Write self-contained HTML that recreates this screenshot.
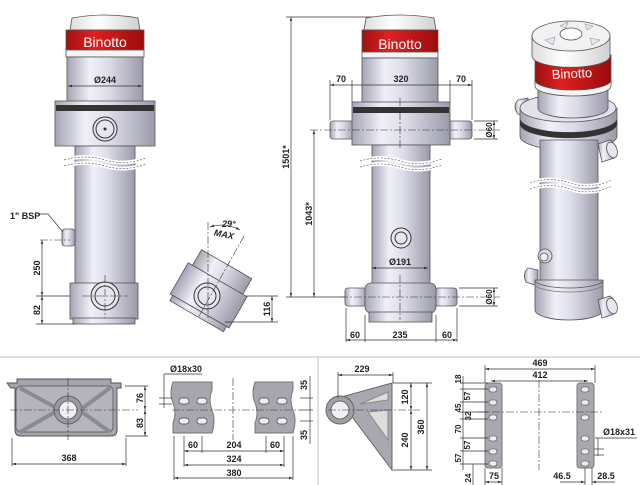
<!DOCTYPE html>
<html><head><meta charset="utf-8"><style>
html,body{margin:0;padding:0;background:#fff}
svg{display:block}
text{font-family:"Liberation Sans",Arial,sans-serif;font-weight:bold;fill:#222}
.d{stroke:#333;stroke-width:0.7;fill:none}
.c{stroke:#333;stroke-width:0.6;fill:none;stroke-dasharray:8 2 2 2}
.o{stroke:#555;stroke-width:0.8}
</style></head><body>
<svg width="640" height="485" viewBox="0 0 640 485" xmlns="http://www.w3.org/2000/svg">
<defs>
<linearGradient id="m" x1="0" x2="1" y1="0" y2="0">
<stop offset="0" stop-color="#a4a4b4"/><stop offset="0.3" stop-color="#f0f0f8"/><stop offset="0.55" stop-color="#dcdce8"/><stop offset="1" stop-color="#9a9aaa"/></linearGradient>
<linearGradient id="r" x1="0" x2="1" y1="0" y2="0">
<stop offset="0" stop-color="#a01010"/><stop offset="0.35" stop-color="#e02020"/><stop offset="1" stop-color="#9a0c0c"/></linearGradient>
<linearGradient id="w" x1="0" x2="1"><stop offset="0" stop-color="#ddd"/><stop offset="0.4" stop-color="#fff"/><stop offset="1" stop-color="#d0d0d0"/></linearGradient>
<marker id="a" viewBox="0 0 10 10" refX="10" refY="5" markerWidth="6" markerHeight="6" orient="auto-start-reverse"><path d="M0,2L10,5L0,8z" fill="#333"/></marker>
</defs>

<!-- LEFT CYLINDER -->
<g class="o">
<path d="M70,30 L72,18 Q105,12 138,18 L140,30Z" fill="url(#w)"/>
<rect x="66" y="30" width="78" height="20" fill="url(#r)"/>
<rect x="66" y="50" width="78" height="7" fill="#f4f4f4"/>
<rect x="67" y="57" width="76" height="45" fill="url(#m)"/>
<rect x="55" y="101" width="100" height="45" fill="url(#m)"/>
<rect x="56" y="105" width="98" height="6" fill="#333" stroke="none"/>
<rect x="75" y="146" width="60" height="138" fill="url(#m)"/>
<rect x="62" y="229" width="13" height="17" rx="3" fill="url(#m)"/>
<rect x="70" y="283" width="68" height="36" fill="url(#m)"/>
<rect x="73" y="318" width="62" height="6" fill="url(#m)"/>
</g>
<text x="105" y="47" font-size="14" style="fill:#fff;font-weight:normal" text-anchor="middle">Binotto</text>
<circle cx="105" cy="129" r="12" fill="#e6e6ee" stroke="#333"/><circle cx="105" cy="129" r="9" fill="none" stroke="#333"/><circle cx="105" cy="129" r="1.5" fill="#333"/>
<circle cx="105" cy="296" r="14" fill="#e6e6ee" stroke="#333"/><circle cx="105" cy="296" r="10" fill="none" stroke="#333"/>
<path d="M64,160 Q85,154 105,160 T146,158 M64,166 Q85,160 105,166 T146,164" stroke="#fff" stroke-width="4" fill="none"/>
<path d="M64,160 Q85,154 105,160 T146,158 M64,166 Q85,160 105,166 T146,164" stroke="#555" stroke-width="0.6" stroke-dasharray="2 1.5" fill="none"/>
<line class="d" x1="68" y1="86" x2="142" y2="86" marker-start="url(#a)" marker-end="url(#a)"/>
<text x="105" y="83" font-size="9" text-anchor="middle">Ø244</text>
<text x="10" y="219" font-size="9">1" BSP</text>
<path class="d" d="M38,214 L48,214 L63,232"/>
<line class="c" x1="40" y1="240" x2="70" y2="240"/>
<line class="c" x1="82" y1="296" x2="128" y2="296"/><line class="c" x1="105" y1="275" x2="105" y2="318"/>
<line class="d" x1="36" y1="296" x2="70" y2="296"/><line class="d" x1="36" y1="324" x2="75" y2="324"/>
<line class="d" x1="42" y1="240" x2="42" y2="296" marker-start="url(#a)" marker-end="url(#a)"/>
<line class="d" x1="42" y1="296" x2="42" y2="324" marker-start="url(#a)" marker-end="url(#a)"/>
<text transform="translate(40,268) rotate(-90)" font-size="9" text-anchor="middle">250</text>
<text transform="translate(40,310) rotate(-90)" font-size="9" text-anchor="middle">82</text>

<!-- TILTED -->
<g transform="rotate(30 210 295)" class="o">
<rect x="180" y="260" width="58" height="18" fill="url(#m)"/>
<rect x="175" y="278" width="68" height="36" fill="url(#m)"/>
<rect x="178" y="314" width="62" height="6" fill="url(#m)"/>
</g>
<circle cx="207" cy="296" r="13" fill="#e6e6ee" stroke="#333"/><circle cx="207" cy="296" r="9" fill="none" stroke="#333"/>
<line class="c" x1="208" y1="222" x2="208" y2="320"/>
<line class="c" x1="244" y1="236" x2="198" y2="318"/>
<path class="d" d="M210,227 Q225,222 240,230" marker-start="url(#a)" marker-end="url(#a)"/>
<text x="222" y="227" font-size="9" font-style="italic">29°</text>
<text x="214" y="237" font-size="9" font-style="italic" transform="rotate(12 222 234)">MAX</text>
<line class="d" x1="246" y1="296" x2="278" y2="296"/><line class="d" x1="225" y1="322" x2="278" y2="322"/>
<line class="d" x1="272" y1="296" x2="272" y2="322" marker-start="url(#a)" marker-end="url(#a)"/>
<text transform="translate(270,309) rotate(-90)" font-size="9" text-anchor="middle">116</text>

<!-- MIDDLE CYLINDER -->
<line class="d" x1="286" y1="17" x2="380" y2="17"/>
<line class="d" x1="286" y1="297" x2="345" y2="297"/>
<line class="d" x1="291" y1="17" x2="291" y2="297" marker-start="url(#a)" marker-end="url(#a)"/>
<line class="d" x1="314" y1="130" x2="314" y2="297" marker-start="url(#a)" marker-end="url(#a)"/>
<text transform="translate(289,157) rotate(-90)" font-size="9" text-anchor="middle">1501*</text>
<text transform="translate(312,214) rotate(-90)" font-size="9" text-anchor="middle">1043*</text>
<g class="o">
<path d="M364,30 L366,18 Q400,12 434,18 L436,30Z" fill="url(#w)"/>
<rect x="362" y="30" width="76" height="22" fill="url(#r)"/>
<rect x="362" y="52" width="76" height="6" fill="#f4f4f4"/>
<rect x="362" y="58" width="76" height="45" fill="url(#m)"/>
<rect x="330" y="121" width="24" height="18" rx="3" fill="url(#m)"/>
<rect x="448" y="121" width="24" height="18" rx="3" fill="url(#m)"/>
<rect x="352" y="102" width="98" height="43" fill="url(#m)"/>
<rect x="353" y="107" width="96" height="6" fill="#333" stroke="none"/>
<rect x="372" y="145" width="58" height="140" fill="url(#m)"/>
<rect x="345" y="288" width="22" height="18" rx="3" fill="url(#m)"/>
<rect x="435" y="288" width="22" height="18" rx="3" fill="url(#m)"/>
<rect x="365" y="283" width="71" height="30" rx="6" fill="url(#m)"/>
<rect x="369" y="312" width="63" height="10" fill="url(#m)"/>
</g>
<text x="400" y="49" font-size="14" style="fill:#fff;font-weight:normal" text-anchor="middle">Binotto</text>
<circle cx="401" cy="238" r="10" fill="#e6e6ee" stroke="#333"/><circle cx="401" cy="238" r="6" fill="none" stroke="#333"/>
<path d="M360,161 Q380,155 400,161 T442,159 M360,167 Q380,161 400,167 T442,165" stroke="#fff" stroke-width="4" fill="none"/>
<path d="M360,161 Q380,155 400,161 T442,159 M360,167 Q380,161 400,167 T442,165" stroke="#555" stroke-width="0.6" stroke-dasharray="2 1.5" fill="none"/>
<line class="c" x1="310" y1="130" x2="500" y2="130"/><line class="c" x1="400" y1="98" x2="400" y2="150"/>
<line class="c" x1="340" y1="297" x2="500" y2="297"/><line class="c" x1="400" y1="275" x2="400" y2="320"/>
<line class="d" x1="330" y1="80" x2="330" y2="120"/><line class="d" x1="352" y1="80" x2="352" y2="102"/>
<line class="d" x1="450" y1="80" x2="450" y2="102"/><line class="d" x1="472" y1="80" x2="472" y2="120"/>
<line class="d" x1="330" y1="85" x2="472" y2="85" marker-start="url(#a)" marker-end="url(#a)"/>
<text x="341" y="82" font-size="9" text-anchor="middle">70</text><text x="401" y="82" font-size="9" text-anchor="middle">320</text><text x="461" y="82" font-size="9" text-anchor="middle">70</text>
<line class="d" x1="474" y1="121" x2="498" y2="121"/><line class="d" x1="474" y1="139" x2="498" y2="139"/>
<line class="d" x1="494" y1="121" x2="494" y2="139" marker-start="url(#a)" marker-end="url(#a)"/>
<text transform="translate(492,130) rotate(-90)" font-size="8" text-anchor="middle">Ø60</text>
<line class="d" x1="459" y1="288" x2="498" y2="288"/><line class="d" x1="459" y1="306" x2="498" y2="306"/>
<line class="d" x1="494" y1="288" x2="494" y2="306" marker-start="url(#a)" marker-end="url(#a)"/>
<text transform="translate(492,297) rotate(-90)" font-size="8" text-anchor="middle">Ø60</text>
<line class="d" x1="372" y1="268" x2="428" y2="268" marker-start="url(#a)" marker-end="url(#a)"/>
<text x="400" y="265" font-size="9" text-anchor="middle">Ø191</text>
<line class="d" x1="346" y1="308" x2="346" y2="342"/><line class="d" x1="365" y1="315" x2="365" y2="342"/>
<line class="d" x1="436" y1="315" x2="436" y2="342"/><line class="d" x1="457" y1="308" x2="457" y2="342"/>
<line class="d" x1="346" y1="340" x2="457" y2="340" marker-start="url(#a)" marker-end="url(#a)"/>
<text x="355" y="338" font-size="9" text-anchor="middle">60</text><text x="400" y="338" font-size="9" text-anchor="middle">235</text><text x="447" y="338" font-size="9" text-anchor="middle">60</text>

<!-- ISO -->
<g class="o">
<!-- upper left pin stub -->
<path d="M528,98 l-10,2 q-6,6 0,14 l10,2z" fill="url(#m)"/>
<!-- collar -->
<path d="M520,108 v28 a48,14 0 0 0 97,0 v-28z" fill="url(#m)"/>
<ellipse cx="568" cy="108" rx="48" ry="14" fill="#e2e2ec"/>
<path d="M520,118 a48,14 0 0 0 97,0 v6 a48,14 0 0 1 -97,0z" fill="#333" stroke="none"/>
<!-- body -->
<path d="M538,86 v22 a35,10 0 0 0 70,0 v-22z" fill="url(#m)"/>
<!-- red band -->
<path d="M535,55 v26 a38,10 0 0 0 76,0 v-26z" fill="url(#r)"/>
<path d="M535,80 a38,10 0 0 0 76,0 v6 a38,10 0 0 1 -76,0z" fill="#f4f4f4"/>
<!-- cap -->
<path d="M532,36 v20 a38,11 0 0 0 78,0 v-20z" fill="url(#w)"/>
<ellipse cx="571" cy="36" rx="39" ry="15" fill="#f2f2f4"/>
<ellipse cx="571" cy="34" rx="11" ry="6" fill="#fff"/>
<path d="M545,40 l10,-3 l-2,8z M590,38 l10,2 l-8,5z M560,26 l8,-4 l-2,6z M585,24 l8,2 l-6,4z" fill="#e8e8ec" stroke="#999" stroke-width="0.6"/>
<!-- right upper pin -->
<path d="M598,144 l12,-4 q8,6 4,18 l-12,4z" fill="url(#m)"/>
<ellipse cx="612" cy="150" rx="5" ry="8" fill="#e8e8f0" transform="rotate(-20 612 150)"/>
<!-- tube -->
<path d="M540,140 h58 v150 h-58z" fill="url(#m)"/>
<!-- port -->
<ellipse cx="545" cy="256" rx="7" ry="7" fill="#d8d8e0"/>
<ellipse cx="544" cy="257" rx="4" ry="4" fill="#eee"/>
<!-- lower left pin -->
<path d="M538,270 l-10,-2 q-6,6 -2,14 l12,4z" fill="url(#m)"/>
<!-- lower collar -->
<path d="M535,280 v30 a34,10 0 0 0 68,0 v-30z" fill="url(#m)"/>
<path d="M535,280 a34,8 0 0 0 68,0" fill="none" stroke="#555"/>
<path d="M535,284 a34,8 0 0 0 68,0" fill="none" stroke="#777"/>
<!-- lower right pin -->
<path d="M598,300 l12,-4 q8,6 4,18 l-12,4z" fill="url(#m)"/>
<ellipse cx="612" cy="306" rx="5" ry="8" fill="#e8e8f0" transform="rotate(-20 612 306)"/>
</g>
<text x="572" y="78" font-size="13" style="fill:#fff;font-weight:normal" text-anchor="middle" transform="rotate(-3 572 74)">Binotto</text>
<path d="M530,183 Q550,176 570,183 T612,180 M530,189 Q550,182 570,189 T612,186" stroke="#fff" stroke-width="4" fill="none"/>
<path d="M530,183 Q550,176 570,183 T612,180 M530,189 Q550,182 570,189 T612,186" stroke="#555" stroke-width="0.6" stroke-dasharray="2 1.5" fill="none"/>

<!-- separators -->
<line x1="0" y1="357" x2="640" y2="357" stroke="#ccc" stroke-width="1.2"/>
<line x1="318" y1="357" x2="318" y2="485" stroke="#ccc" stroke-width="1.2"/>

<!-- BOTTOM-LEFT plate -->
<path d="M7,383 h10 v-4 h94 v4 h10 v5 h-4 v42 q0,6 -6,6 h-90 q-6,0 -6,-6 v-42 h-4z" fill="#a4a4ac" stroke="#555"/>
<rect x="16" y="386" width="97" height="46" rx="5" fill="#b4b4bc" stroke="#666"/>
<path d="M20,388 L60,410 M110,388 L80,410 M20,432 L55,412 M110,432 L82,412" stroke="#8a8a94" stroke-width="4"/>
<circle cx="68" cy="410" r="14" fill="#9a9aa4" stroke="#666"/><circle cx="68" cy="410" r="9" fill="#f0f0f0" stroke="#666"/>
<line class="c" x1="10" y1="410" x2="138" y2="410"/><line class="c" x1="68" y1="378" x2="68" y2="440"/>
<line class="d" x1="125" y1="386" x2="148" y2="386"/><line class="d" x1="125" y1="436" x2="148" y2="436"/>
<line class="d" x1="145" y1="386" x2="145" y2="410" marker-start="url(#a)" marker-end="url(#a)"/>
<line class="d" x1="145" y1="410" x2="145" y2="436" marker-start="url(#a)" marker-end="url(#a)"/>
<text transform="translate(143,398) rotate(-90)" font-size="9" text-anchor="middle">76</text>
<text transform="translate(143,423) rotate(-90)" font-size="9" text-anchor="middle">83</text>
<line class="d" x1="12" y1="438" x2="12" y2="466"/><line class="d" x1="126" y1="438" x2="126" y2="466"/>
<line class="d" x1="12" y1="464" x2="126" y2="464" marker-start="url(#a)" marker-end="url(#a)"/>
<text x="69" y="461" font-size="9" text-anchor="middle">368</text>

<!-- plates -->
<g fill="#a6a6ae" stroke="#777">
<path d="M173,382 h39 v8 q-4,10 0,20 q4,10 0,23 h-39 v-10 q4,-10 0,-20 q-4,-10 0,-21z"/>
<path d="M255,382 h38 v8 q-4,10 0,20 q4,10 0,23 h-38 v-10 q4,-10 0,-20 q-4,-10 0,-21z"/>
</g>
<g fill="#eee" stroke="#444" stroke-width="0.7">
<rect x="179" y="398" width="10" height="6" rx="3"/><rect x="197" y="398" width="10" height="6" rx="3"/>
<rect x="179" y="418" width="10" height="6" rx="3"/><rect x="197" y="418" width="10" height="6" rx="3"/>
<rect x="259" y="398" width="10" height="6" rx="3"/><rect x="277" y="398" width="10" height="6" rx="3"/>
<rect x="259" y="418" width="10" height="6" rx="3"/><rect x="277" y="418" width="10" height="6" rx="3"/>
</g>
<line class="c" x1="172" y1="410" x2="300" y2="410"/><line class="c" x1="233" y1="378" x2="233" y2="440"/>
<text x="170" y="372" font-size="9">Ø18x30</text>
<path class="d" d="M164,374 h38"/><line class="d" x1="164" y1="374" x2="164" y2="408"/>
<line class="d" x1="159" y1="398" x2="172" y2="398"/><line class="d" x1="159" y1="404" x2="172" y2="404"/>
<line class="d" x1="300" y1="398" x2="313" y2="398"/><line class="d" x1="300" y1="410" x2="313" y2="410"/><line class="d" x1="300" y1="421" x2="313" y2="421"/>
<line class="d" x1="310" y1="376" x2="310" y2="444"/>
<text transform="translate(307,385) rotate(-90)" font-size="9" text-anchor="middle">35</text>
<text transform="translate(307,435) rotate(-90)" font-size="9" text-anchor="middle">35</text>
<line class="d" x1="184" y1="436" x2="184" y2="467"/><line class="d" x1="202" y1="436" x2="202" y2="453"/>
<line class="d" x1="266" y1="436" x2="266" y2="453"/><line class="d" x1="284" y1="436" x2="284" y2="467"/>
<line class="d" x1="174" y1="436" x2="174" y2="480"/><line class="d" x1="293" y1="436" x2="293" y2="480"/>
<line class="d" x1="184" y1="451" x2="284" y2="451" marker-start="url(#a)" marker-end="url(#a)"/>
<line class="d" x1="184" y1="465" x2="284" y2="465" marker-start="url(#a)" marker-end="url(#a)"/>
<line class="d" x1="174" y1="478" x2="293" y2="478" marker-start="url(#a)" marker-end="url(#a)"/>
<text x="193" y="448" font-size="9" text-anchor="middle">60</text><text x="234" y="448" font-size="9" text-anchor="middle">204</text><text x="275" y="448" font-size="9" text-anchor="middle">60</text>
<text x="234" y="462" font-size="9" text-anchor="middle">324</text><text x="234" y="476" font-size="9" text-anchor="middle">380</text>

<!-- bracket -->
<path d="M338,398 L392,383 L392,470 Z" fill="#a8a8b0" stroke="#666"/>
<path d="M360,404 L388,392 L388,400 Z M368,412 L388,410 L388,440 Z" fill="#ddd" stroke="#888"/>
<circle cx="340" cy="410" r="14" fill="#a0a0a8" stroke="#666"/><circle cx="340" cy="410" r="9" fill="#f0f0f0" stroke="#666"/>
<line class="c" x1="328" y1="410" x2="420" y2="410"/>
<line class="d" x1="338" y1="372" x2="338" y2="398"/><line class="d" x1="393" y1="372" x2="393" y2="383"/>
<line class="d" x1="338" y1="375" x2="393" y2="375" marker-start="url(#a)" marker-end="url(#a)"/>
<text x="362" y="372" font-size="9" text-anchor="middle">229</text>
<line class="d" x1="393" y1="383" x2="432" y2="383"/><line class="d" x1="393" y1="470" x2="432" y2="470"/>
<line class="d" x1="411" y1="383" x2="411" y2="410" marker-start="url(#a)" marker-end="url(#a)"/>
<line class="d" x1="411" y1="410" x2="411" y2="470" marker-start="url(#a)" marker-end="url(#a)"/>
<line class="d" x1="427" y1="383" x2="427" y2="470" marker-start="url(#a)" marker-end="url(#a)"/>
<text transform="translate(408,397) rotate(-90)" font-size="9" text-anchor="middle">120</text>
<text transform="translate(408,440) rotate(-90)" font-size="9" text-anchor="middle">240</text>
<text transform="translate(424,427) rotate(-90)" font-size="9" text-anchor="middle">360</text>

<!-- rails -->
<rect x="485" y="383" width="17" height="85" rx="3" fill="#a8a8b0" stroke="#777"/>
<rect x="577" y="383" width="17" height="85" rx="3" fill="#a8a8b0" stroke="#777"/>
<g fill="#eee" stroke="#444" stroke-width="0.6">
<rect x="489" y="387" width="8" height="5" rx="2.5"/><rect x="489" y="400" width="8" height="5" rx="2.5"/><rect x="489" y="415" width="8" height="5" rx="2.5"/><rect x="489" y="436" width="8" height="5" rx="2.5"/><rect x="489" y="449" width="8" height="5" rx="2.5"/><rect x="489" y="461" width="8" height="5" rx="2.5"/>
<rect x="581" y="387" width="8" height="5" rx="2.5"/><rect x="581" y="400" width="8" height="5" rx="2.5"/><rect x="581" y="415" width="8" height="5" rx="2.5"/><rect x="581" y="436" width="8" height="5" rx="2.5"/><rect x="581" y="449" width="8" height="5" rx="2.5"/><rect x="581" y="461" width="8" height="5" rx="2.5"/>
</g>
<line class="c" x1="478" y1="412" x2="602" y2="412"/><line class="c" x1="539" y1="380" x2="539" y2="470"/>
<line class="d" x1="485" y1="365" x2="485" y2="383"/><line class="d" x1="595" y1="365" x2="595" y2="383"/>
<line class="d" x1="485" y1="369" x2="595" y2="369" marker-start="url(#a)" marker-end="url(#a)"/>
<text x="540" y="366" font-size="9" text-anchor="middle">469</text>
<line class="d" x1="491" y1="381" x2="588" y2="381" marker-start="url(#a)" marker-end="url(#a)"/>
<text x="540" y="378" font-size="9" text-anchor="middle">412</text>
<g class="d">
<line x1="460" y1="383" x2="488" y2="383"/><line x1="460" y1="389" x2="488" y2="389"/><line x1="460" y1="402" x2="488" y2="402"/><line x1="460" y1="412" x2="488" y2="412"/><line x1="460" y1="419" x2="488" y2="419"/><line x1="460" y1="438" x2="488" y2="438"/><line x1="460" y1="451" x2="488" y2="451"/><line x1="460" y1="464" x2="488" y2="464"/>
<line x1="463" y1="376" x2="463" y2="470"/><line x1="473" y1="464" x2="473" y2="485"/>
</g>
<g font-size="8">
<text transform="translate(461,379) rotate(-90)" text-anchor="middle">18</text>
<text transform="translate(470,396) rotate(-90)" text-anchor="middle">57</text>
<text transform="translate(461,408) rotate(-90)" text-anchor="middle">45</text>
<text transform="translate(471,416) rotate(-90)" text-anchor="middle">32</text>
<text transform="translate(461,429) rotate(-90)" text-anchor="middle">70</text>
<text transform="translate(470,445) rotate(-90)" text-anchor="middle">57</text>
<text transform="translate(461,458) rotate(-90)" text-anchor="middle">57</text>
<text transform="translate(471,478) rotate(-90)" text-anchor="middle">24</text>
</g>
<line class="d" x1="485" y1="468" x2="485" y2="485"/><line class="d" x1="502" y1="468" x2="502" y2="485"/>
<line class="d" x1="485" y1="482" x2="502" y2="482" marker-start="url(#a)" marker-end="url(#a)"/>
<text x="494" y="479" font-size="9" text-anchor="middle">75</text>
<line class="d" x1="585" y1="468" x2="585" y2="485"/><line class="d" x1="592" y1="468" x2="592" y2="485"/>
<line class="d" x1="560" y1="482" x2="585" y2="482" marker-end="url(#a)"/><line class="d" x1="592" y1="482" x2="615" y2="482" marker-start="url(#a)"/>
<text x="562" y="479" font-size="9" text-anchor="middle">46.5</text><text x="606" y="479" font-size="9" text-anchor="middle">28.5</text>
<text x="603" y="435" font-size="9">Ø18x31</text>
<path class="d" d="M595,438 h42 M598,438 v18"/>
<line class="d" x1="594" y1="449" x2="604" y2="449"/><line class="d" x1="594" y1="455" x2="604" y2="455"/>
</svg>
</body></html>
